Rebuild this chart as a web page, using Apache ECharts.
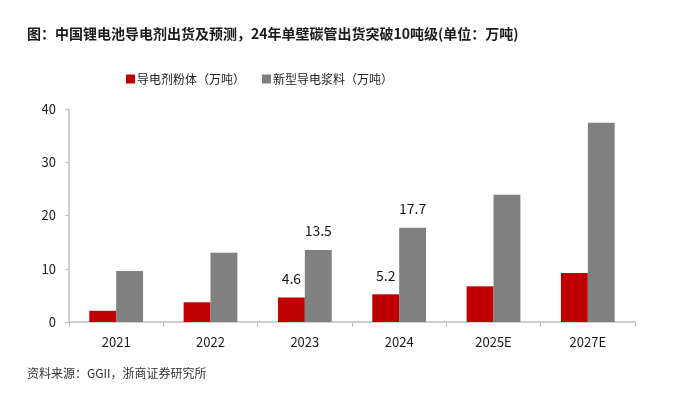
<!DOCTYPE html>
<html><head><meta charset="utf-8">
<script src="https://cdn.jsdelivr.net/npm/echarts@6/dist/echarts.min.js"></script>
<style>html,body{margin:0;padding:0;background:#fff}#c{width:698px;height:405px}</style>
</head><body><div id="c"></div>
<script>
const titleText = '图：中国锂电池导电剂出货及预测，24年单壁碳管出货突破10吨级(单位：万吨)';
const sourceText = '资料来源：GGII，浙商证券研究所';
const categories = ['2021','2022','2023','2024','2025E','2027E'];
const seriesNames = ['导电剂粉体（万吨）','新型导电浆料（万吨）'];
const powder = [2.1, 3.7, 4.6, 5.2, 6.7, 9.2];
const slurry = [9.6, 13.0, 13.5, 17.7, 23.9, 37.4];
const labeledCategories = ['2023','2024'];
const yTicks = [0, 10, 20, 30, 40];

const font = '"Noto Sans CJK SC", "Noto Sans", sans-serif';
const chart = echarts.init(document.getElementById('c'));
function withLabels(vals){
  return vals.map((v,i)=>({
    value:v,
    label:{show: labeledCategories.includes(categories[i])}
  }));
}
chart.setOption({
  animation:false,
  textStyle:{fontFamily:font},
  title:[
    {text:titleText,left:22,top:22,textStyle:{fontSize:14,fontWeight:'bold',color:'#1a1a1a',fontFamily:font}},
    {text:sourceText,left:22,top:362,textStyle:{fontSize:12,fontWeight:'normal',color:'#333',fontFamily:font}}
  ],
  legend:{
    top:68,left:121,
    itemWidth:9,itemHeight:9,icon:'rect',itemGap:17,itemStyle:{borderWidth:0},
    textStyle:{fontSize:12,color:'#222',fontFamily:font,padding:[0,0,0,-3]},
    data:seriesNames
  },
  grid:{left:69,right:63,top:109,bottom:83,containLabel:false},
  xAxis:{
    type:'category',data:categories,
    axisLine:{lineStyle:{color:'#bfbfbf',width:1.5}},
    axisTick:{show:true,length:5,lineStyle:{color:'#bfbfbf'},alignWithLabel:false},
    axisLabel:{fontSize:13,color:'#1a1a1a',margin:14,fontFamily:font}
  },
  yAxis:{
    type:'value',min:0,max:40,interval:10,
    axisLine:{show:true,lineStyle:{color:'#bfbfbf',width:1.5}},
    axisTick:{show:true,length:4,lineStyle:{color:'#bfbfbf'}},
    splitLine:{show:false},
    axisLabel:{fontSize:13,color:'#1a1a1a',margin:13,fontFamily:font,
      formatter:v=>yTicks.includes(v)?String(v):''}
  },
  series:[
    {name:seriesNames[0],type:'bar',data:withLabels(powder),barGap:'0%',barCategoryGap:'43%',
     itemStyle:{color:'#C00000'},
     label:{position:'top',distance:12,fontSize:14,color:'#1a1a1a',fontFamily:font}},
    {name:seriesNames[1],type:'bar',data:withLabels(slurry),
     itemStyle:{color:'#808080'},
     label:{position:'top',distance:12,fontSize:14,color:'#1a1a1a',fontFamily:font}}
  ]
});
</script></body></html>
